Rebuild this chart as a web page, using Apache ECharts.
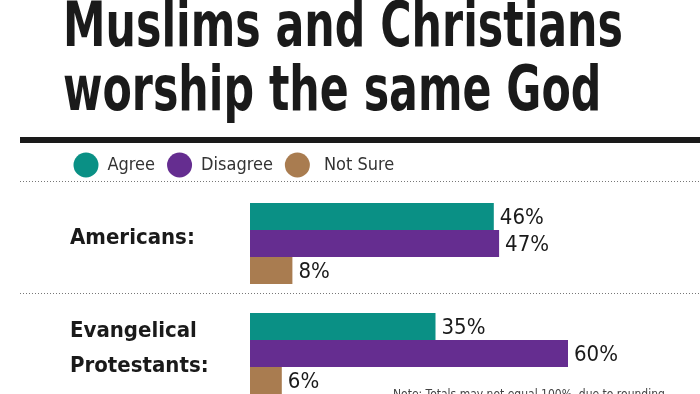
<!DOCTYPE html>
<html>
<head>
<meta charset="utf-8">
<script src="https://cdn.jsdelivr.net/npm/echarts@6/dist/echarts.min.js"></script>
<style>
html,body{margin:0;padding:0;background:#fff;}
#c{width:700px;height:394px;}
</style>
</head>
<body>
<div id="c"></div>
<script>
var titleLines = ['Muslims and Christians', 'worship the same God'];
var categories = ['Americans:', 'Evangelical\nProtestants:'];
var seriesNames = ['Agree', 'Disagree', 'Not Sure'];
var agree = [46, 35];
var disagree = [47, 60];
var notSure = [8, 6];
var noteText = 'Note: Totals may not equal 100%, due to rounding';

var NARROW = '"DejaVu Sans Condensed", "Liberation Sans Narrow", "Roboto", sans-serif';
var colors = ['#0a9085', '#652d90', '#a97c50'];

// title width fitting (style only)
var cv = document.createElement('canvas').getContext('2d');
cv.font = 'bold 63px ' + NARROW;
var titleScale = 560 / cv.measureText(titleLines[0]).width;

var chart = echarts.init(document.getElementById('c'));
var labelCfg = {
  show: true, position: 'right', distance: 6, offset: [0, 2],
  formatter: '{c}%', fontFamily: NARROW, fontSize: 22, color: '#1a1a1a'
};
function mk(name, data, color) {
  return {
    name: name, type: 'bar', data: data, barWidth: 27, barGap: '0%',
    itemStyle: { color: color }, label: labelCfg, silent: true
  };
}
chart.setOption({
  animation: false,
  color: colors,
  legend: {
    data: seriesNames, left: 73.5, top: 152.5, icon: 'circle',
    itemWidth: 25, itemHeight: 25, itemGap: 12, padding: 0,
    formatter: function (n) { return n === 'Not Sure' ? ' ' + n : n; },
    textStyle: { fontFamily: NARROW, fontSize: 18, color: '#333', padding: [0, 0, 0, 4] }
  },
  grid: { left: 250, top: 188.5, width: 530, height: 220, outerBoundsMode: 'none', containLabel: false },
  xAxis: { type: 'value', min: 0, max: 100, show: false },
  yAxis: {
    type: 'category', data: categories, inverse: true,
    axisLine: { show: false }, axisTick: { show: false }, splitLine: { show: false },
    axisLabel: {
      align: 'left', margin: 180,
      formatter: function (v) {
        return v.split('\n').map(function (l) { return '{a|' + l + '}'; }).join('\n') + '\n{s| }';
      },
      rich: {
        a: { fontFamily: NARROW, fontWeight: 'bold', fontSize: 22, lineHeight: 35, color: '#1a1a1a', align: 'left' },
        s: { fontSize: 1, lineHeight: 10 }
      }
    }
  },
  series: [
    mk(seriesNames[0], agree, colors[0]),
    mk(seriesNames[1], disagree, colors[1]),
    mk(seriesNames[2], notSure, colors[2])
  ],
  graphic: [
    { type: 'text', x: 63, y: 30, scaleX: titleScale, style: { text: titleLines[0], fontFamily: NARROW, fontWeight: 'bold', fontSize: 63, fill: '#1a1a1a', verticalAlign: 'middle' } },
    { type: 'text', x: 63, y: 94, scaleX: titleScale, style: { text: titleLines[1], fontFamily: NARROW, fontWeight: 'bold', fontSize: 63, fill: '#1a1a1a', verticalAlign: 'middle' } },
    { type: 'rect', shape: { x: 20, y: 137, width: 680, height: 6 }, style: { fill: '#1a1a1a' } },
    { type: 'line', shape: { x1: 20, y1: 181.5, x2: 700, y2: 181.5 }, style: { stroke: '#777', lineWidth: 1, lineDash: [1, 2] } },
    { type: 'line', shape: { x1: 20, y1: 293.5, x2: 700, y2: 293.5 }, style: { stroke: '#777', lineWidth: 1, lineDash: [1, 2] } },
    { type: 'text', x: 393, y: 389, style: { text: noteText, fontFamily: NARROW, fontSize: 12, fill: '#444' } }
  ]
});
</script>
</body>
</html>
